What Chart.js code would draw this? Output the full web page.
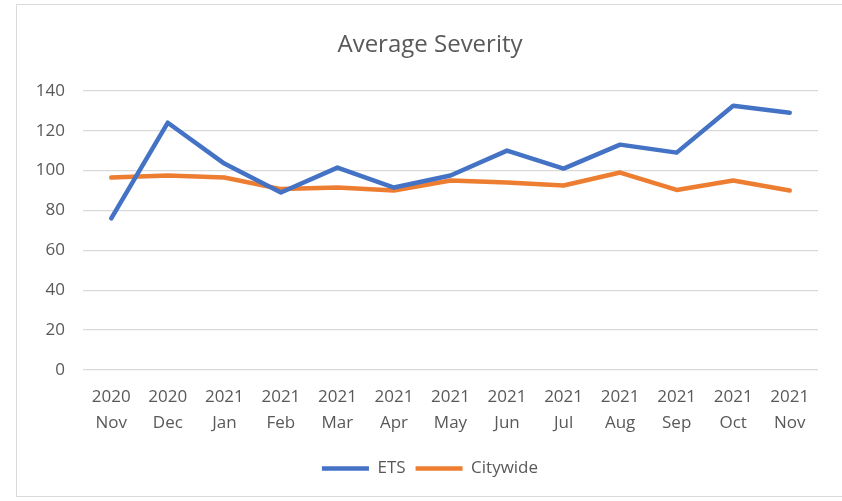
<!DOCTYPE html>
<html>
<head>
<meta charset="utf-8">
<script src="https://cdn.jsdelivr.net/npm/chart.js@4"></script>
<style>
  html, body { margin: 0; padding: 0; background: #ffffff; }
  #wrap { position: relative; width: 842px; height: 501px; overflow: hidden; }
  #frame { position: absolute; left: 16px; top: 4px; width: 840px; height: 493px; border: 1.5px solid #d9d9d9; box-sizing: border-box; }
  canvas { position: absolute; left: 0; top: 0; }
</style>
</head>
<body>
<div id="wrap">
  <div id="frame"></div>
  <canvas id="c" width="842" height="501"></canvas>
</div>
<script>
const categories = [
  ["2020", "Nov"], ["2020", "Dec"], ["2021", "Jan"], ["2021", "Feb"],
  ["2021", "Mar"], ["2021", "Apr"], ["2021", "May"], ["2021", "Jun"],
  ["2021", "Jul"], ["2021", "Aug"], ["2021", "Sep"], ["2021", "Oct"], ["2021", "Nov"]
];
const etsValues = [76, 124, 103.5, 89, 101.5, 91.5, 97.5, 110, 101, 113, 109, 132.5, 129];
const citywideValues = [96.5, 97.5, 96.5, 90.7, 91.5, 90, 95, 94, 92.5, 99, 90.3, 95, 90];
const yTicks = [0, 20, 40, 60, 80, 100, 120, 140];

const FONT = "'Open Sans', 'Noto Sans', sans-serif";
const TEXT = '#595959';

new Chart(document.getElementById('c'), {
  type: 'line',
  data: {
    labels: categories,
    datasets: [
      { label: 'ETS', data: etsValues, borderColor: '#4472C4', backgroundColor: '#4472C4',
        borderWidth: 4.5, pointRadius: 0, tension: 0, borderCapStyle: 'round', borderJoinStyle: 'round' },
      { label: 'Citywide', data: citywideValues, borderColor: '#ED7D31', backgroundColor: '#ED7D31',
        borderWidth: 4.5, pointRadius: 0, tension: 0, borderCapStyle: 'round', borderJoinStyle: 'round' }
    ]
  },
  options: {
    responsive: false,
    animation: false,
    events: [],
    layout: { padding: { left: 18, right: 0, top: 0, bottom: 14 } },
    plugins: {
      title: {
        display: true, text: 'Average Severity', color: TEXT,
        font: { family: FONT, size: 24, weight: 'normal' },
        padding: { top: 31, bottom: 31 }
      },
      legend: {
        position: 'bottom',
        labels: {
          color: TEXT, font: { family: FONT, size: 17 },
          usePointStyle: true, pointStyle: 'line', pointStyleWidth: 47, boxHeight: 17,
          padding: 10
        }
      },
      tooltip: { enabled: false }
    },
    scales: {
      x: {
        offset: true,
        grid: { display: false, drawTicks: false },
        border: { display: false },
        ticks: { color: TEXT, font: { family: FONT, size: 17, lineHeight: 1.55 }, padding: 14, maxRotation: 0, autoSkip: false },
        afterFit: (s) => { s.height = 80; }
      },
      y: {
        min: 0, max: 140,
        afterBuildTicks: (s) => { s.ticks = yTicks.map(v => ({ value: v })); },
        grid: { color: '#d9d9d9', lineWidth: 1.3, drawTicks: false },
        border: { display: false },
        ticks: { color: TEXT, font: { family: FONT, size: 17 }, padding: 18 },
        afterFit: (s) => { s.width = 65; }
      },
      yRight: {
        position: 'right',
        display: true,
        grid: { display: false, drawTicks: false },
        border: { display: false },
        ticks: { display: false },
        afterFit: (s) => { s.width = 24; }
      }
    }
  }
});
</script>
</body>
</html>
